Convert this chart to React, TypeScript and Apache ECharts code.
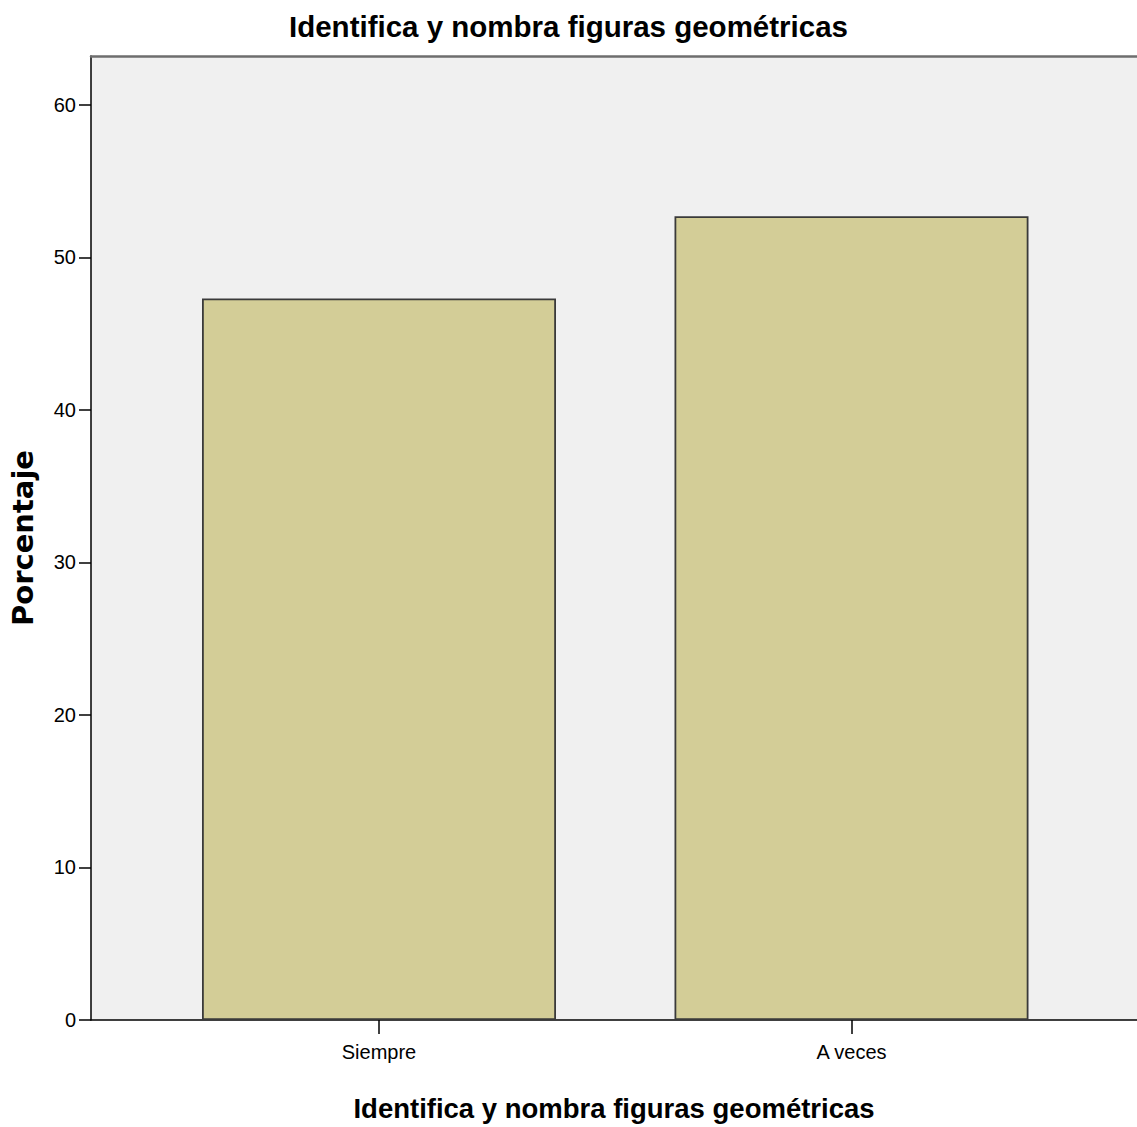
import React, { useEffect, useRef } from "react";
import * as echarts from "echarts";

const chartTitle = "Identifica y nombra figuras geométricas";
const xAxisTitle = "Identifica y nombra figuras geométricas";
const yAxisTitle = "Porcentaje";
const categories = ["Siempre", "A veces"];
const percentages = [47.3, 52.7];
const yMin = 0;
const yMax = 63.2;
const yInterval = 10;

const SANS = "'Liberation Sans', Arial, sans-serif";

export default function App() {
  const ref = useRef<HTMLDivElement>(null);
  useEffect(() => {
    document.body.style.margin = "0";
    if (!ref.current) return;
    const chart = echarts.init(ref.current, null, { renderer: "svg" });
    const plotTop = 56;
    const plotHeight = 964;
    chart.setOption({
      animation: false,
      backgroundColor: "#ffffff",
      title: {
        text: chartTitle,
        left: "center",
        top: 6,
        textStyle: { fontFamily: SANS, fontWeight: "bold", fontSize: 29.5, color: "#000" },
      },
      grid: [
        {
          left: 90,
          top: plotTop,
          width: 1051,
          height: plotHeight,
          show: true,
          backgroundColor: "#f0f0f0",
          borderWidth: 0,
        },
        {
          left: 142.75,
          top: plotTop,
          width: 945,
          height: plotHeight,
          show: false,
        },
      ],
      xAxis: [
        {
          gridIndex: 0,
          type: "value",
          min: 0,
          max: 1,
          position: "bottom",
          axisLine: { show: true, lineStyle: { color: "#000", width: 1.5 } },
          axisTick: { show: false },
          axisLabel: { show: false },
          splitLine: { show: false },
          name: xAxisTitle,
          nameLocation: "middle",
          nameGap: 74,
          nameTextStyle: { fontFamily: SANS, fontWeight: "bold", fontSize: 27.5, color: "#000" },
        },
        {
          gridIndex: 0,
          type: "value",
          min: 0,
          max: 1,
          position: "top",
          axisLine: { show: true, lineStyle: { color: "#6e6e6e", width: 2.5 } },
          axisTick: { show: false },
          axisLabel: { show: false },
          splitLine: { show: false },
        },
        {
          gridIndex: 1,
          type: "category",
          data: categories,
          position: "bottom",
          axisLine: { show: false },
          axisTick: { show: true, alignWithLabel: true, length: 14, lineStyle: { color: "#000", width: 1.5 } },
          axisLabel: { fontFamily: SANS, fontSize: 20, color: "#000", margin: 22 },
          splitLine: { show: false },
        },
      ],
      yAxis: [
        {
          gridIndex: 0,
          type: "value",
          min: yMin,
          max: yMax,
          interval: yInterval,
          axisLine: { show: true, lineStyle: { color: "#000", width: 1.5 } },
          axisTick: { show: true, inside: false, length: 12, lineStyle: { color: "#000", width: 1.5 } },
          axisLabel: {
            fontFamily: SANS,
            fontSize: 20,
            color: "#000",
            margin: 15,
            showMaxLabel: false,
            formatter: (v: number) => (v % 10 === 0 ? String(v) : ""),
          },
          splitLine: { show: false },
          name: yAxisTitle,
          nameLocation: "middle",
          nameRotate: 90,
          nameGap: 54,
          nameTextStyle: { fontFamily: "'DejaVu Sans', sans-serif", fontWeight: "bold", fontSize: 29, color: "#000" },
        },
        {
          gridIndex: 1,
          type: "value",
          min: yMin,
          max: yMax,
          show: false,
          splitLine: { show: false },
        },
      ],
      series: [
        {
          type: "bar",
          xAxisIndex: 2,
          yAxisIndex: 1,
          data: percentages,
          barWidth: 354,
          itemStyle: { color: "#d3cd97", borderColor: "#3a3a3a", borderWidth: 1.8 },
        },
      ],
    });
    return () => chart.dispose();
  }, []);
  return <div ref={ref} style={{ width: 1137, height: 1127 }} />;
}
